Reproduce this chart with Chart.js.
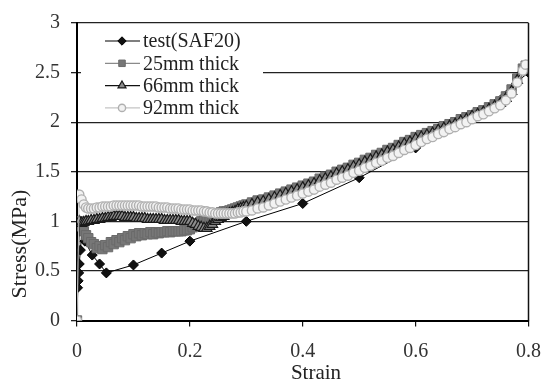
<!DOCTYPE html>
<html>
<head>
<meta charset="utf-8">
<script src="https://cdn.jsdelivr.net/npm/chart.js@4/dist/chart.umd.min.js"></script>
<style>
  html, body { margin: 0; padding: 0; background: #fff; }
  #wrap { width: 554px; height: 383px; }
</style>
</head>
<body>
<div id="wrap"><canvas id="c" width="554" height="383"></canvas></div>
<script>
// ---- measured test curve ----
const testStrain = [0, 0.001, 0.002, 0.003, 0.004, 0.006, 0.009, 0.014, 0.027, 0.04, 0.052,
  0.1, 0.15, 0.2, 0.3, 0.4, 0.5, 0.6, 0.7, 0.8];
const testStress = [0, 0.33, 0.40, 0.48, 0.57, 0.71, 0.92, 0.80, 0.66, 0.57, 0.48,
  0.56, 0.68, 0.80, 1.00, 1.18, 1.44, 1.74, 2.04, 2.50];

// ---- simulated curves (shared strain steps) ----
const simStrain = [0, 0.004, 0.008, 0.012, 0.016,
  0.020, 0.025, 0.030, 0.035, 0.040, 0.045, 0.050, 0.055, 0.060, 0.065,
  0.070, 0.075, 0.080, 0.085, 0.090, 0.095, 0.100, 0.105, 0.110, 0.115,
  0.120, 0.125, 0.130, 0.135, 0.140, 0.145, 0.150, 0.155, 0.160, 0.165,
  0.170, 0.175, 0.180, 0.185, 0.190, 0.195, 0.200, 0.205, 0.210, 0.215,
  0.220, 0.225, 0.230, 0.235, 0.240, 0.245, 0.250, 0.255, 0.260, 0.265,
  0.270, 0.275, 0.280, 0.285, 0.290, 0.295, 0.300,
  0.31, 0.32, 0.33, 0.34, 0.35, 0.36, 0.37, 0.38, 0.39,
  0.40, 0.41, 0.42, 0.43, 0.44, 0.45, 0.46, 0.47, 0.48, 0.49,
  0.50, 0.51, 0.52, 0.53, 0.54, 0.55, 0.56, 0.57, 0.58, 0.59,
  0.60, 0.61, 0.62, 0.63, 0.64, 0.65, 0.66, 0.67, 0.68, 0.69,
  0.70, 0.71, 0.72, 0.73, 0.74, 0.75, 0.76, 0.77, 0.78, 0.79, 0.795];

const stress25 = [0, 1.00, 0.95, 0.90, 0.86,
  0.83, 0.79, 0.77, 0.73, 0.75, 0.72, 0.76, 0.74, 0.79, 0.77,
  0.81, 0.79, 0.83, 0.81, 0.85, 0.83, 0.87, 0.85, 0.88, 0.86,
  0.88, 0.87, 0.89, 0.87, 0.89, 0.88, 0.89, 0.89, 0.90, 0.89,
  0.90, 0.90, 0.90, 0.90, 0.91, 0.91, 0.92, 0.94, 0.96, 0.98,
  1.00, 1.02, 1.03, 1.05, 1.06, 1.07, 1.08, 1.09, 1.10, 1.10,
  1.11, 1.12, 1.13, 1.14, 1.15, 1.16, 1.17,
  1.19, 1.21, 1.22, 1.24, 1.26, 1.28, 1.30, 1.32, 1.34,
  1.36, 1.38, 1.40, 1.43, 1.45, 1.47, 1.50, 1.52, 1.54, 1.57,
  1.59, 1.62, 1.64, 1.67, 1.69, 1.72, 1.74, 1.77, 1.80, 1.82,
  1.85, 1.87, 1.89, 1.91, 1.93, 1.96, 1.98, 2.00, 2.03, 2.05,
  2.07, 2.10, 2.12, 2.15, 2.18, 2.21, 2.26, 2.33, 2.44, 2.54, 2.57];

const stress66 = [0, 1.00, 0.98, 0.99, 1.00,
  1.00, 1.01, 1.01, 1.02, 1.02, 1.03, 1.03, 1.04, 1.04, 1.05,
  1.05, 1.05, 1.05, 1.04, 1.04, 1.04, 1.04, 1.03, 1.03, 1.03,
  1.03, 1.02, 1.02, 1.02, 1.02, 1.02, 1.02, 1.01, 1.01, 1.01,
  1.01, 1.01, 1.01, 1.00, 1.00, 1.00, 1.00, 0.98, 0.97, 0.95,
  0.94, 0.93, 0.93, 0.95, 0.97, 1.00, 1.02, 1.04, 1.05, 1.07,
  1.08, 1.09, 1.10, 1.12, 1.13, 1.14, 1.15,
  1.17, 1.19, 1.20, 1.22, 1.24, 1.26, 1.28, 1.30, 1.32,
  1.34, 1.36, 1.38, 1.41, 1.43, 1.45, 1.48, 1.50, 1.52, 1.55,
  1.57, 1.60, 1.62, 1.65, 1.67, 1.70, 1.72, 1.75, 1.78, 1.80,
  1.83, 1.85, 1.87, 1.89, 1.92, 1.94, 1.96, 1.98, 2.01, 2.03,
  2.06, 2.08, 2.10, 2.13, 2.16, 2.19, 2.24, 2.31, 2.42, 2.53, 2.56];

const stress92 = [0, 1.27, 1.22, 1.17, 1.14,
  1.13, 1.13, 1.13, 1.14, 1.14, 1.15, 1.15, 1.15, 1.15, 1.16,
  1.16, 1.16, 1.16, 1.16, 1.16, 1.16, 1.16, 1.16, 1.16, 1.15,
  1.15, 1.15, 1.15, 1.15, 1.15, 1.14, 1.14, 1.14, 1.14, 1.13,
  1.13, 1.13, 1.13, 1.12, 1.12, 1.12, 1.12, 1.11, 1.11, 1.11,
  1.11, 1.10, 1.10, 1.09, 1.09, 1.08, 1.08, 1.08, 1.08, 1.08,
  1.08, 1.08, 1.08, 1.09, 1.09, 1.10, 1.10,
  1.11, 1.13, 1.14, 1.16, 1.18, 1.20, 1.22, 1.24, 1.26,
  1.28, 1.30, 1.32, 1.35, 1.37, 1.39, 1.42, 1.44, 1.46, 1.49,
  1.51, 1.54, 1.56, 1.59, 1.61, 1.64, 1.66, 1.69, 1.72, 1.74,
  1.77, 1.80, 1.83, 1.85, 1.88, 1.90, 1.93, 1.95, 1.98, 2.00,
  2.03, 2.06, 2.08, 2.11, 2.14, 2.17, 2.22, 2.29, 2.40, 2.52, 2.58];

const seriesNames = ['test(SAF20)', '25mm thick', '66mm thick', '92mm thick'];
const yTicks = [0, 0.5, 1, 1.5, 2, 2.5, 3];
const xTicks = [0, 0.2, 0.4, 0.6, 0.8];
const xTitle = 'Strain';
const yTitle = 'Stress(MPa)';

const pairs = (xs, ys) => xs.map((x, i) => ({ x: x, y: ys[i] }));
const serif = '"Liberation Serif", "Times New Roman", serif';
const tickText = (v) => String(Math.round(v * 100) / 100);

const datasets = [
  { label: seriesNames[0], data: pairs(testStrain, testStress), order: 4,
    borderColor: '#000', borderWidth: 1, pointStyle: 'rectRot', pointRadius: 5,
    pointBackgroundColor: '#111', pointBorderColor: '#000', pointBorderWidth: 1 },
  { label: seriesNames[1], data: pairs(simStrain, stress25), order: 3,
    borderColor: '#8a8a8a', borderWidth: 1, pointStyle: 'rect', pointRadius: 6.6,
    pointBackgroundColor: '#777', pointBorderColor: '#6a6a6a', pointBorderWidth: 1 },
  { label: seriesNames[2], data: pairs(simStrain, stress66), order: 2,
    borderColor: '#111', borderWidth: 1, pointStyle: 'triangle', pointRadius: 6,
    pointBackgroundColor: '#8c8c8c', pointBorderColor: '#1a1a1a', pointBorderWidth: 1.2 },
  { label: seriesNames[3], data: pairs(simStrain, stress92), order: 1,
    borderColor: '#c4c4c4', borderWidth: 1, pointStyle: 'circle', pointRadius: 4.6,
    pointBackgroundColor: '#f2f2f2', pointBorderColor: '#b0b0b0', pointBorderWidth: 1.4 }
];

function drawMarker(ctx, ds, x, y, r) {
  const opts = { pointStyle: ds.pointStyle, radius: r, borderWidth: ds.pointBorderWidth, rotation: 0 };
  ctx.fillStyle = ds.pointBackgroundColor;
  ctx.strokeStyle = ds.pointBorderColor;
  ctx.lineWidth = ds.pointBorderWidth;
  Chart.helpers.drawPoint(ctx, opts, x, y);
}

// Right frame line, axis titles and the legend panel inside the plot
const frameAndLegend = {
  id: 'frameAndLegend',
  afterDatasetsDraw(chart) {
    const { ctx, chartArea } = chart;
    ctx.save();
    ctx.strokeStyle = '#111';
    ctx.lineWidth = 1.5;
    ctx.beginPath();
    ctx.moveTo(chartArea.right, chartArea.top);
    ctx.lineTo(chartArea.right, chartArea.bottom);
    ctx.stroke();

    // axis titles
    ctx.fillStyle = '#222';
    ctx.textAlign = 'center';
    ctx.textBaseline = 'middle';
    ctx.font = '21px ' + serif;
    ctx.fillText(xTitle, 316, 373);
    ctx.save();
    ctx.translate(20, 244);
    ctx.rotate(-Math.PI / 2);
    ctx.font = '22px ' + serif;
    ctx.fillText(yTitle, 0, 0);
    ctx.restore();

    // legend
    const x0 = chartArea.left + 4, y0 = chartArea.top + 3;
    ctx.fillStyle = '#fff';
    ctx.fillRect(x0, y0, 182, 92);
    const legendSize = [4.2, 4.6, 4.6, 3.6];
    chart.data.datasets.forEach((ds, i) => {
      const y = y0 + 15 + i * 22.3;
      ctx.strokeStyle = ds.borderColor;
      ctx.lineWidth = 1.2;
      ctx.beginPath();
      ctx.moveTo(x0 + 24, y);
      ctx.lineTo(x0 + 59, y);
      ctx.stroke();
      drawMarker(ctx, ds, x0 + 41, y, legendSize[i]);
      ctx.fillStyle = '#222';
      ctx.font = '20px ' + serif;
      ctx.textBaseline = 'middle';
      ctx.textAlign = 'left';
      ctx.fillText(ds.label, x0 + 62, y + 1);
    });
    ctx.restore();
  }
};

new Chart(document.getElementById('c'), {
  type: 'scatter',
  data: { datasets: datasets },
  plugins: [frameAndLegend],
  options: {
    responsive: false,
    devicePixelRatio: 1,
    animation: false,
    showLine: true,
    layout: { padding: { left: 0, right: 20, top: 19, bottom: 0 } },
    elements: { line: { tension: 0 } },
    plugins: { legend: { display: false }, tooltip: { enabled: false } },
    scales: {
      x: {
        type: 'linear', min: 0, max: 0.8,
        afterFit: (s) => { s.height = 62.5; },
        afterBuildTicks: (s) => { s.ticks = xTicks.map(v => ({ value: v })); },
        grid: { drawOnChartArea: false, tickLength: 6, color: '#111', lineWidth: 1.2 },
        border: { color: '#000', width: 2 },
        ticks: { color: '#333', padding: 13, maxRotation: 0, callback: tickText,
                 font: { family: serif, size: 20 } },
        title: { display: false }
      },
      y: {
        type: 'linear', min: 0, max: 3,
        afterFit: (s) => { s.width = 77; },
        afterBuildTicks: (s) => { s.ticks = yTicks.map(v => ({ value: v })); },
        grid: { color: '#222', lineWidth: 1.3, tickLength: 6 },
        border: { color: '#000', width: 2 },
        ticks: { color: '#333', padding: 11, callback: tickText, font: { family: serif, size: 20 } },
        title: { display: false }
      }
    }
  }
});
</script>
</body>
</html>
